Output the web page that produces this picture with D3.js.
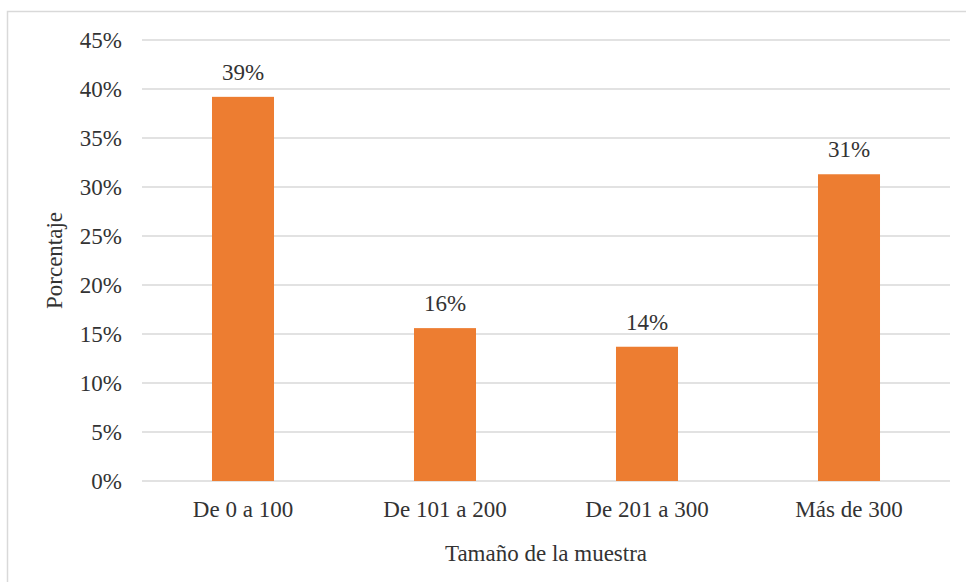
<!DOCTYPE html>
<html>
<head>
<meta charset="utf-8">
<script src="https://cdn.jsdelivr.net/npm/d3@7"></script>
</head>
<body style="margin:0">
<svg id="chart" width="966" height="582"></svg>
<script>
const categories = ["De 0 a 100", "De 101 a 200", "De 201 a 300", "Más de 300"];
const values = [0.392, 0.156, 0.137, 0.313];
const yTicks = [0, 0.05, 0.10, 0.15, 0.20, 0.25, 0.30, 0.35, 0.40, 0.45];
const yTitle = "Porcentaje";
const xTitle = "Tamaño de la muestra";

const chartSvg = d3.select("#chart");
const plotL = 142, plotR = 950, plotT = 40, plotB = 481;
const fontPx = 23;
const textCol = "#333333";
const fmt = d3.format(".0%");

chartSvg.append("rect")
  .attr("x", 7.5).attr("y", 11.5)
  .attr("width", 986).attr("height", 602)
  .attr("fill", "none").attr("stroke", "#d9d9d9").attr("stroke-width", 1.5);

const xScale = d3.scaleBand().domain(categories).range([plotL, plotR])
  .paddingInner(0.693).paddingOuter(0.3465);
const yScale = d3.scaleLinear().domain([0, 0.45]).range([plotB, plotT]);

chartSvg.append("g").selectAll("line").data(yTicks).join("line")
  .attr("x1", plotL).attr("x2", plotR)
  .attr("y1", d => yScale(d)).attr("y2", d => yScale(d))
  .attr("stroke", "#d9d9d9").attr("stroke-width", 1.5);

// y tick labels
chartSvg.append("g").selectAll("text").data(yTicks).join("text")
  .attr("x", plotL - 20)
  .attr("y", d => yScale(d))
  .attr("dy", "0.33em")
  .attr("text-anchor", "end")
  .style("font-family", '"Tinos"')
  .attr("font-size", fontPx)
  .attr("fill", textCol)
  .text(d => fmt(d));

chartSvg.append("g").selectAll("rect").data(values).join("rect")
  .attr("x", (d, i) => xScale(categories[i]))
  .attr("width", xScale.bandwidth())
  .attr("y", d => yScale(d))
  .attr("height", d => yScale(0) - yScale(d))
  .attr("fill", "#ED7D31");

chartSvg.append("g").selectAll("text").data(values).join("text")
  .attr("x", (d, i) => xScale(categories[i]) + xScale.bandwidth() / 2)
  .attr("y", d => yScale(d) - 17)
  .attr("text-anchor", "middle")
  .style("font-family", '"Tinos"')
  .attr("font-size", fontPx)
  .attr("fill", textCol)
  .text(d => fmt(d));

// x category labels
chartSvg.append("g").selectAll("text").data(categories).join("text")
  .attr("x", d => xScale(d) + xScale.bandwidth() / 2)
  .attr("y", plotB + 36)
  .attr("text-anchor", "middle")
  .style("font-family", '"Tinos"')
  .attr("font-size", fontPx)
  .attr("fill", textCol)
  .text(d => d);

chartSvg.append("text")
  .attr("x", (plotL + plotR) / 2).attr("y", 561)
  .attr("text-anchor", "middle")
  .style("font-family", '"Tinos"')
  .attr("font-size", fontPx)
  .attr("fill", textCol)
  .text(xTitle);

chartSvg.append("text")
  .attr("transform", `translate(62,${(plotT + plotB) / 2}) rotate(-90)`)
  .attr("text-anchor", "middle")
  .style("font-family", '"Tinos"')
  .attr("font-size", fontPx)
  .attr("fill", textCol)
  .text(yTitle);
</script>
</body>
</html>
